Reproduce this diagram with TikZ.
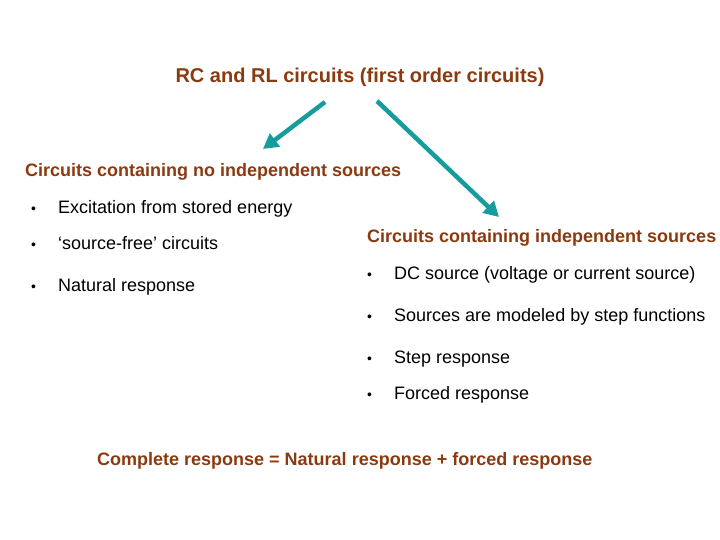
\documentclass[tikz,border=0pt]{standalone}
\usepackage{fontspec}
\setmainfont{Liberation Sans}
\usetikzlibrary{arrows.meta}
\definecolor{brn}{HTML}{8B3A0F}
\definecolor{tealc}{HTML}{169C9C}
\begin{document}
\begin{tikzpicture}[x=1pt,y=-1pt,
  head/.style={font=\fontsize{18}{21}\selectfont\bfseries, text=brn, inner sep=0pt, anchor=west, text height=13pt, text depth=4pt},
  body/.style={font=\fontsize{18}{21}\selectfont, text=black, inner sep=0pt, anchor=west, text height=13pt, text depth=4pt},
  bul/.style={body, font=\fontsize{14}{17}\selectfont},
  arr/.style={draw=tealc, line width=4.5pt, -{Triangle[length=15pt,width=16pt]}}]
\useasboundingbox (0,0) rectangle (720,540);
\node[head, anchor=center, font=\fontsize{20}{24}\selectfont\bfseries] (title) at (360,78) {RC and RL circuits (first order circuits)};
\node[head] (lh) at (25,172.5) {Circuits containing no independent sources};
\node[bul] (lb1) at (31,209.5) {•};
\node[body] (l1) at (58,209.5) {Excitation from stored energy};
\node[bul] (lb2) at (31,244.5) {•};
\node[body] (l2) at (58,244.5) {‘source-free’ circuits};
\node[bul] (lb3) at (31,286.5) {•};
\node[body] (l3) at (58,286.5) {Natural response};
\node[head] (rh) at (367,238.5) {Circuits containing independent sources};
\node[bul] (rb1) at (367,274.5) {•};
\node[body] (r1) at (394,274.5) {DC source (voltage or current source)};
\node[bul] (rb2) at (367,316.5) {•};
\node[body] (r2) at (394,316.5) {Sources are modeled by step functions};
\node[bul] (rb3) at (367,358.5) {•};
\node[body] (r3) at (394,358.5) {Step response};
\node[bul] (rb4) at (367,394.5) {•};
\node[body] (r4) at (394,394.5) {Forced response};
\node[head] (bot) at (97,460.5) {Complete response = Natural response + forced response};
\coordinate (a1s) at (325,102);
\coordinate (a1e) at (263,149);
\coordinate (a2s) at (377,101);
\coordinate (a2e) at (499,217);
\draw[arr] (a1s) -- (a1e);
\draw[arr] (a2s) -- (a2e);
\end{tikzpicture}
\end{document}
